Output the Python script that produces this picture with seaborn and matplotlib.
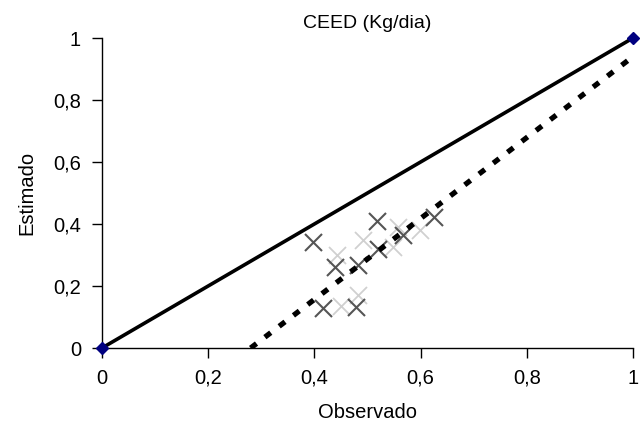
import numpy as np
import pandas as pd
import matplotlib
matplotlib.use("Agg")
import matplotlib.pyplot as plt
import seaborn as sns

obs_solid = [0.397, 0.518, 0.626, 0.567, 0.520, 0.483, 0.439, 0.417, 0.478]
est_solid = [0.343, 0.411, 0.424, 0.365, 0.318, 0.268, 0.262, 0.128, 0.131]
obs_faint = [0.442, 0.492, 0.451, 0.483, 0.558, 0.599, 0.549]
est_faint = [0.300, 0.350, 0.135, 0.171, 0.391, 0.381, 0.327]

# 1:1 reference line and trend line
ref_x = [0.0, 1.0]
ref_y = [0.0, 1.0]
trend_x = [0.28, 1.0]
trend_y = [0.0, 0.94]

x_ticks = [0, 0.2, 0.4, 0.6, 0.8, 1.0]
y_ticks = [0, 0.2, 0.4, 0.6, 0.8, 1.0]

sns.set_style("white")
plt.rcParams['font.family'] = ['Liberation Sans', 'DejaVu Sans']
plt.rcParams['text.color'] = 'black'
plt.rcParams['axes.labelcolor'] = 'black'
plt.rcParams['xtick.color'] = 'black'
plt.rcParams['ytick.color'] = 'black'

fig = plt.figure(figsize=(6.41, 4.40), dpi=100)
ax = fig.add_axes([0.159, 0.209, 0.8285, 0.7046])

sns.lineplot(x=ref_x, y=ref_y, ax=ax, color='black', linewidth=2.6, zorder=3)
sns.lineplot(x=trend_x, y=trend_y, ax=ax, color='black', linewidth=3.8,
             linestyle=(0, (1.4, 2.0)), zorder=4)
sns.scatterplot(x=obs_faint, y=est_faint, ax=ax, marker='x', s=150,
                color='#d0d0d0', linewidth=1.3, zorder=2)
sns.scatterplot(x=obs_solid, y=est_solid, ax=ax, marker='x', s=150,
                color='#555555', linewidth=1.5, zorder=2)
ax.plot(ref_x, ref_y, linestyle='none', marker='D', markersize=6,
        color='#000080', clip_on=False, zorder=5)

ax.set_xlim(0, 1)
ax.set_ylim(0, 1)
ax.set_xticks(x_ticks)
ax.set_yticks(y_ticks)
fmt = lambda v: ('%g' % v).replace('.', ',')
ax.set_xticklabels([fmt(v) for v in x_ticks])
ax.set_yticklabels([fmt(v) for v in y_ticks])

for side in ['top', 'right']:
    ax.spines[side].set_visible(False)
for side in ['left', 'bottom']:
    ax.spines[side].set_color('black')
    ax.spines[side].set_linewidth(1.0)
ax.tick_params(axis='both', direction='out', length=7, width=1, color='black',
               labelsize=14.5, pad=8, bottom=True, left=True)

ax.set_title('CEED (Kg/dia)', fontsize=14, pad=7)
ax.set_xlabel('Observado', fontsize=14.5, labelpad=11)
ax.set_ylabel('Estimado', fontsize=14.5, labelpad=12)

fig.savefig('out.png', dpi=100)
